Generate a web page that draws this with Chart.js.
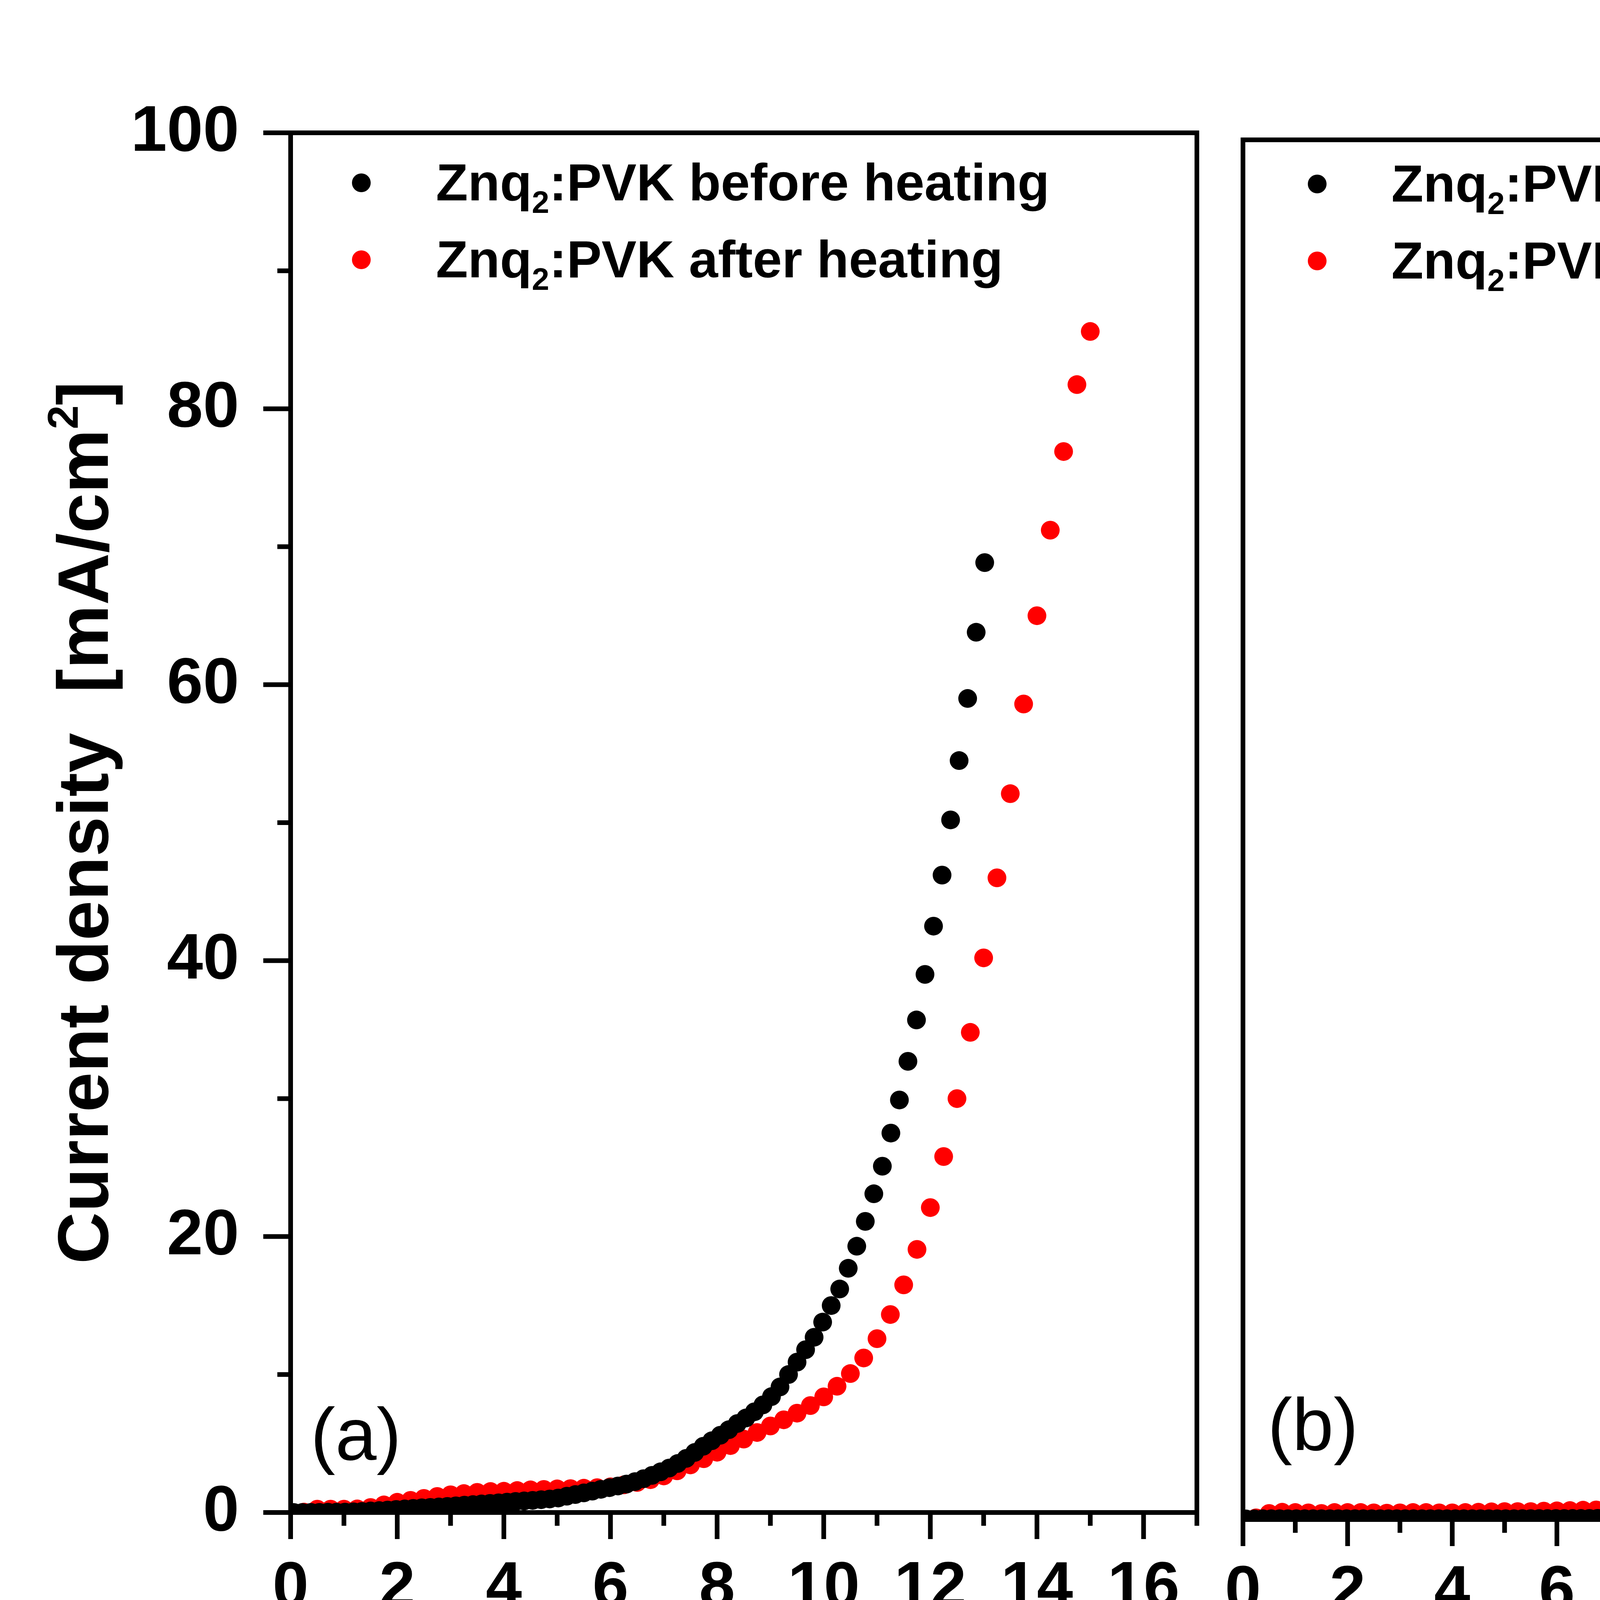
<!DOCTYPE html>
<html>
<head>
<meta charset="utf-8">
<script src="https://cdn.jsdelivr.net/npm/chart.js@4.4.1/dist/chart.umd.min.js"></script>
<style>
  html, body { margin: 0; padding: 0; background: #fff; }
  canvas { position: absolute; left: 0; top: 0; width: 6284px; height: 4696px; }
</style>
</head>
<body>
<canvas id="panelA" width="6284" height="4696"></canvas>
<canvas id="panelB" width="6284" height="4696"></canvas>
<script>
// voltage steps of the two measurements
const voltsBefore = [0.06, 0.22, 0.38, 0.54, 0.70, 0.86, 1.02, 1.18, 1.34, 1.50, 1.66, 1.82, 1.98, 2.14, 2.30, 2.46, 2.62, 2.78, 2.94, 3.10,
  3.26, 3.42, 3.58, 3.74, 3.90, 4.06, 4.22, 4.38, 4.54, 4.70, 4.86, 5.02, 5.18, 5.34, 5.50, 5.66, 5.82, 5.98, 6.14, 6.30,
  6.46, 6.62, 6.78, 6.94, 7.10, 7.26, 7.42, 7.58, 7.74, 7.90, 8.06, 8.22, 8.38, 8.54, 8.70, 8.86, 9.02, 9.18, 9.34, 9.50,
  9.66, 9.82, 9.98, 10.14, 10.30, 10.46, 10.62, 10.78, 10.94, 11.10, 11.26, 11.42, 11.58, 11.74, 11.90, 12.06, 12.22, 12.38, 12.54, 12.70,
  12.86, 13.02];
const voltsAfter = [0, 0.25, 0.5, 0.75, 1, 1.25, 1.5, 1.75, 2, 2.25, 2.5, 2.75, 3, 3.25, 3.5, 3.75, 4, 4.25, 4.5, 4.75,
  5, 5.25, 5.5, 5.75, 6, 6.25, 6.5, 6.75, 7, 7.25, 7.5, 7.75, 8, 8.25, 8.5, 8.75, 9, 9.25, 9.5, 9.75,
  10, 10.25, 10.5, 10.75, 11, 11.25, 11.5, 11.75, 12, 12.25, 12.5, 12.75, 13, 13.25, 13.5, 13.75, 14, 14.25, 14.5, 14.75, 15];

// (a) current density [mA/cm2]
const jBefore = [0.00, 0.00, 0.01, 0.01, 0.02, 0.02, 0.03, 0.05, 0.08, 0.11,
  0.14, 0.18, 0.22, 0.26, 0.30, 0.34, 0.37, 0.40, 0.44, 0.48,
  0.53, 0.57, 0.62, 0.66, 0.70, 0.75, 0.80, 0.84, 0.88, 0.93,
  0.98, 1.05, 1.18, 1.30, 1.42, 1.55, 1.68, 1.80, 1.92, 2.06,
  2.24, 2.45, 2.69, 2.95, 3.22, 3.55, 3.92, 4.35, 4.80, 5.20,
  5.60, 6.00, 6.45, 6.85, 7.30, 7.80, 8.40, 9.10, 10.00, 10.90,
  11.80, 12.70, 13.80, 15.00, 16.20, 17.70, 19.30, 21.10, 23.10, 25.10,
  27.50, 29.90, 32.70, 35.70, 39.00, 42.50, 46.20, 50.20, 54.50, 59.00,
  63.80, 68.85];
const jAfter = [0.00, 0.03, 0.24, 0.24, 0.24, 0.26, 0.36, 0.55, 0.74, 0.88,
  1.02, 1.16, 1.28, 1.37, 1.46, 1.52, 1.54, 1.59, 1.64, 1.67,
  1.71, 1.73, 1.76, 1.80, 1.86, 2.00, 2.18, 2.38, 2.65, 3.02,
  3.45, 3.90, 4.37, 4.85, 5.32, 5.80, 6.27, 6.72, 7.20, 7.75,
  8.38, 9.15, 10.07, 11.20, 12.60, 14.35, 16.50, 19.07, 22.10, 25.80,
  30.00, 34.80, 40.20, 46.00, 52.10, 58.60, 65.00, 71.20, 76.90, 81.75,
  85.60];

// (b) electroluminescence [cd/m2]
const elBefore = [0.10, 0.12, 0.14, 0.15, 0.15, 0.15, 0.15, 0.15, 0.15, 0.15,
  0.15, 0.15, 0.15, 0.15, 0.15, 0.15, 0.15, 0.15, 0.15, 0.15,
  0.15, 0.15, 0.15, 0.15, 0.15, 0.15, 0.15, 0.15, 0.15, 0.15,
  0.15, 0.15, 0.15, 0.16, 0.16, 0.17, 0.17, 0.18, 0.18, 0.19,
  0.19, 0.20, 0.21, 0.22, 0.24, 0.27, 0.31, 0.36, 0.42, 0.50,
  0.58, 0.67, 0.78, 0.92, 1.08, 1.27, 1.45, 1.60, 1.78, 2.05,
  2.60, 3.30, 4.20, 5.20, 6.45, 7.80, 9.30, 11.10, 13.20, 15.60,
  18.40, 21.70, 25.70, 30.00, 34.50, 40.00, 45.80, 52.00, 59.00, 66.50,
  74.50, 83.30];
const elAfter = [0.00, 0.30, 1.10, 1.32, 1.27, 1.20, 1.10, 1.27, 1.27, 1.27,
  1.20, 1.15, 1.20, 1.27, 1.27, 1.20, 1.20, 1.27, 1.32, 1.39,
  1.44, 1.44, 1.44, 1.52, 1.57, 1.62, 1.69, 1.74, 1.81, 1.86,
  1.93, 2.05, 2.17, 2.35, 2.55, 2.90, 3.20, 3.50, 4.00, 4.70,
  5.50, 6.30, 7.30, 8.80, 10.50, 12.60, 15.20, 18.60, 22.70, 28.00,
  34.40, 42.10, 51.40, 63.40, 79.00, 99.30, 124.20, 151.80, 178.80, 202.00,
  219.50];

const seriesNames = ["Znq2:PVK before heating", "Znq2:PVK after heating"];
const xMajor = [0, 2, 4, 6, 8, 10, 12, 14, 16];
const xMinor = [1, 3, 5, 7, 9, 11, 13, 15, 17];
const jMajor = [0, 20, 40, 60, 80, 100];
const jMinor = [10, 30, 50, 70, 90];
const elMajor = [0, 50, 100, 150, 200, 250];
const elMinor = [25, 75, 125, 175, 225];

const FONT = '"Liberation Sans", Arial, sans-serif';
const LINE = 12;

function toPoints(xs, ys) {
  return xs.map((v, i) => ({ x: v, y: ys[i] }));
}

// draw text made of runs (for sub/superscripts)
function drawRuns(ctx, runs, x, y, size, weight, align) {
  let total = 0;
  runs.forEach(r => {
    ctx.font = weight + ' ' + Math.round(size * (r.s || 1)) + 'px ' + FONT;
    r.w = ctx.measureText(r.t).width;
    total += r.w;
  });
  let cx = align === 'center' ? x - total / 2 : x;
  ctx.textAlign = 'left';
  ctx.textBaseline = 'alphabetic';
  runs.forEach(r => {
    ctx.font = weight + ' ' + Math.round(size * (r.s || 1)) + 'px ' + FONT;
    ctx.fillText(r.t, cx, y + (r.dy || 0) * size);
    cx += r.w;
  });
}

function legendRuns(name) {
  const parts = name.split('2');
  return [{ t: parts[0] }, { t: '2', s: 0.6, dy: 0.24 }, { t: parts[1] }];
}

function framePlugin(cfg) {
  return {
    id: 'frame' + cfg.tag,
    afterDraw(chart) {
      const ctx = chart.ctx;
      const a = chart.chartArea;
      const xs = chart.scales.x, ys = chart.scales.y;
      ctx.save();
      ctx.strokeStyle = '#000';
      ctx.fillStyle = '#000';
      ctx.lineWidth = LINE;
      ctx.lineCap = 'butt';
      ctx.lineJoin = 'miter';
      ctx.strokeRect(a.left, a.top, a.right - a.left, a.bottom - a.top);

      // x ticks below the frame
      const h = LINE / 2;
      ctx.beginPath();
      xMajor.forEach(v => { const p = xs.getPixelForValue(v); ctx.moveTo(p, a.bottom); ctx.lineTo(p, a.bottom + h + 62); });
      xMinor.forEach(v => { const p = xs.getPixelForValue(v); ctx.moveTo(p, a.bottom); ctx.lineTo(p, a.bottom + h + 28); });
      // y ticks outside the frame
      if (cfg.side === 'left') {
        cfg.major.forEach(v => { const p = ys.getPixelForValue(v); ctx.moveTo(a.left, p); ctx.lineTo(a.left - h - 64, p); });
        cfg.minor.forEach(v => { const p = ys.getPixelForValue(v); ctx.moveTo(a.left, p); ctx.lineTo(a.left - h - 28, p); });
      } else {
        cfg.major.forEach(v => { const p = ys.getPixelForValue(v); ctx.moveTo(a.right, p); ctx.lineTo(a.right + h + 64, p); });
        cfg.minor.forEach(v => { const p = ys.getPixelForValue(v); ctx.moveTo(a.right, p); ctx.lineTo(a.right + h + 30, p); });
      }
      ctx.stroke();

      // legend
      const colors = ['#000000', '#ff0000'];
      seriesNames.forEach((n, i) => {
        const yb = cfg.legendY + i * 197;
        ctx.fillStyle = colors[i];
        ctx.beginPath();
        ctx.arc(cfg.dotX, yb - 45, 24, 0, Math.PI * 2);
        ctx.fill();
        ctx.fillStyle = '#000';
        drawRuns(ctx, legendRuns(n), cfg.textX, yb, 134, 'bold', 'left');
      });

      // panel label
      drawRuns(ctx, [{ t: cfg.label }], cfg.labelX, cfg.labelY, 190, 'normal', 'left');

      // x title
      drawRuns(ctx, [{ t: 'Voltage [V]' }], cfg.xTitleX, cfg.xTitleY, 184, 'bold', 'center');

      // y title
      ctx.save();
      ctx.translate(cfg.yTitleX, cfg.yTitleY);
      ctx.rotate(cfg.side === 'left' ? -Math.PI / 2 : Math.PI / 2);
      drawRuns(ctx, cfg.yTitle, 0, 0, 184, 'bold', 'center');
      ctx.restore();
      ctx.restore();
    }
  };
}

function tickFont() {
  return { family: FONT, weight: 'bold', size: 166 };
}

function makeChart(id, cfg) {
  return new Chart(document.getElementById(id), {
    type: 'scatter',
    data: {
      datasets: [
        { label: seriesNames[0], data: toPoints(voltsBefore, cfg.before), backgroundColor: '#000000', borderColor: '#000000',
          pointRadius: 24, pointBorderWidth: 0, pointHoverRadius: 24, clip: 0 },
        { label: seriesNames[1], data: toPoints(voltsAfter, cfg.after), backgroundColor: '#ff0000', borderColor: '#ff0000',
          pointRadius: 24, pointBorderWidth: 0, pointHoverRadius: 24, clip: 0 }
      ]
    },
    options: {
      responsive: false,
      animation: false,
      devicePixelRatio: 1,
      events: [],
      layout: { padding: cfg.padding },
      plugins: { legend: { display: false }, tooltip: { enabled: false }, title: { display: false } },
      scales: {
        x: {
          type: 'linear', position: 'bottom', min: 0, max: 17,
          grid: { display: false }, border: { display: false },
          ticks: { stepSize: 2, includeBounds: false, autoSkip: false, maxRotation: 0, color: '#000', font: tickFont(), padding: cfg.xPad },
          afterFit(s) { s.height = cfg.xHeight; }
        },
        y: {
          type: 'linear', position: cfg.side, min: 0, max: cfg.yMax,
          grid: { display: false }, border: { display: false },
          ticks: { stepSize: cfg.yStep, autoSkip: false, color: '#000', font: tickFont(), padding: cfg.yPad },
          afterFit(s) { s.width = cfg.yWidth; }
        }
      }
    },
    plugins: [framePlugin(cfg)]
  });
}

makeChart('panelA', {
  tag: 'A', side: 'left', before: jBefore, after: jAfter,
  padding: { left: 0, top: 340, right: 3220, bottom: 0 },
  xHeight: 824, yWidth: 744, xPad: 88, yPad: 124, yMax: 100, yStep: 20,
  major: jMajor, minor: jMinor,
  legendY: 513, dotX: 925, textX: 1116,
  label: '(a)', labelX: 795, labelY: 3737,
  xTitleX: 1898, xTitleY: 4420,
  yTitleX: 276, yTitleY: 2106,
  yTitle: [{ t: 'Current density  [mA/cm' }, { t: '2', s: 0.6, dy: -0.42 }, { t: ']' }]
});

makeChart('panelB', {
  tag: 'B', side: 'right', before: elBefore, after: elAfter,
  padding: { left: 3182, top: 358, right: 0, bottom: 0 },
  xHeight: 806, yWidth: 825, xPad: 80, yPad: 125, yMax: 250, yStep: 50,
  major: elMajor, minor: elMinor,
  legendY: 516, dotX: 3372, textX: 3562,
  label: '(b)', labelX: 3245, labelY: 3712,
  xTitleX: 4340, xTitleY: 4440,
  yTitleX: 5995, yTitleY: 2245,
  yTitle: [{ t: 'Electroluminescence [cd/m' }, { t: '2', s: 0.6, dy: -0.42 }, { t: ']' }]
});
</script>
</body>
</html>
